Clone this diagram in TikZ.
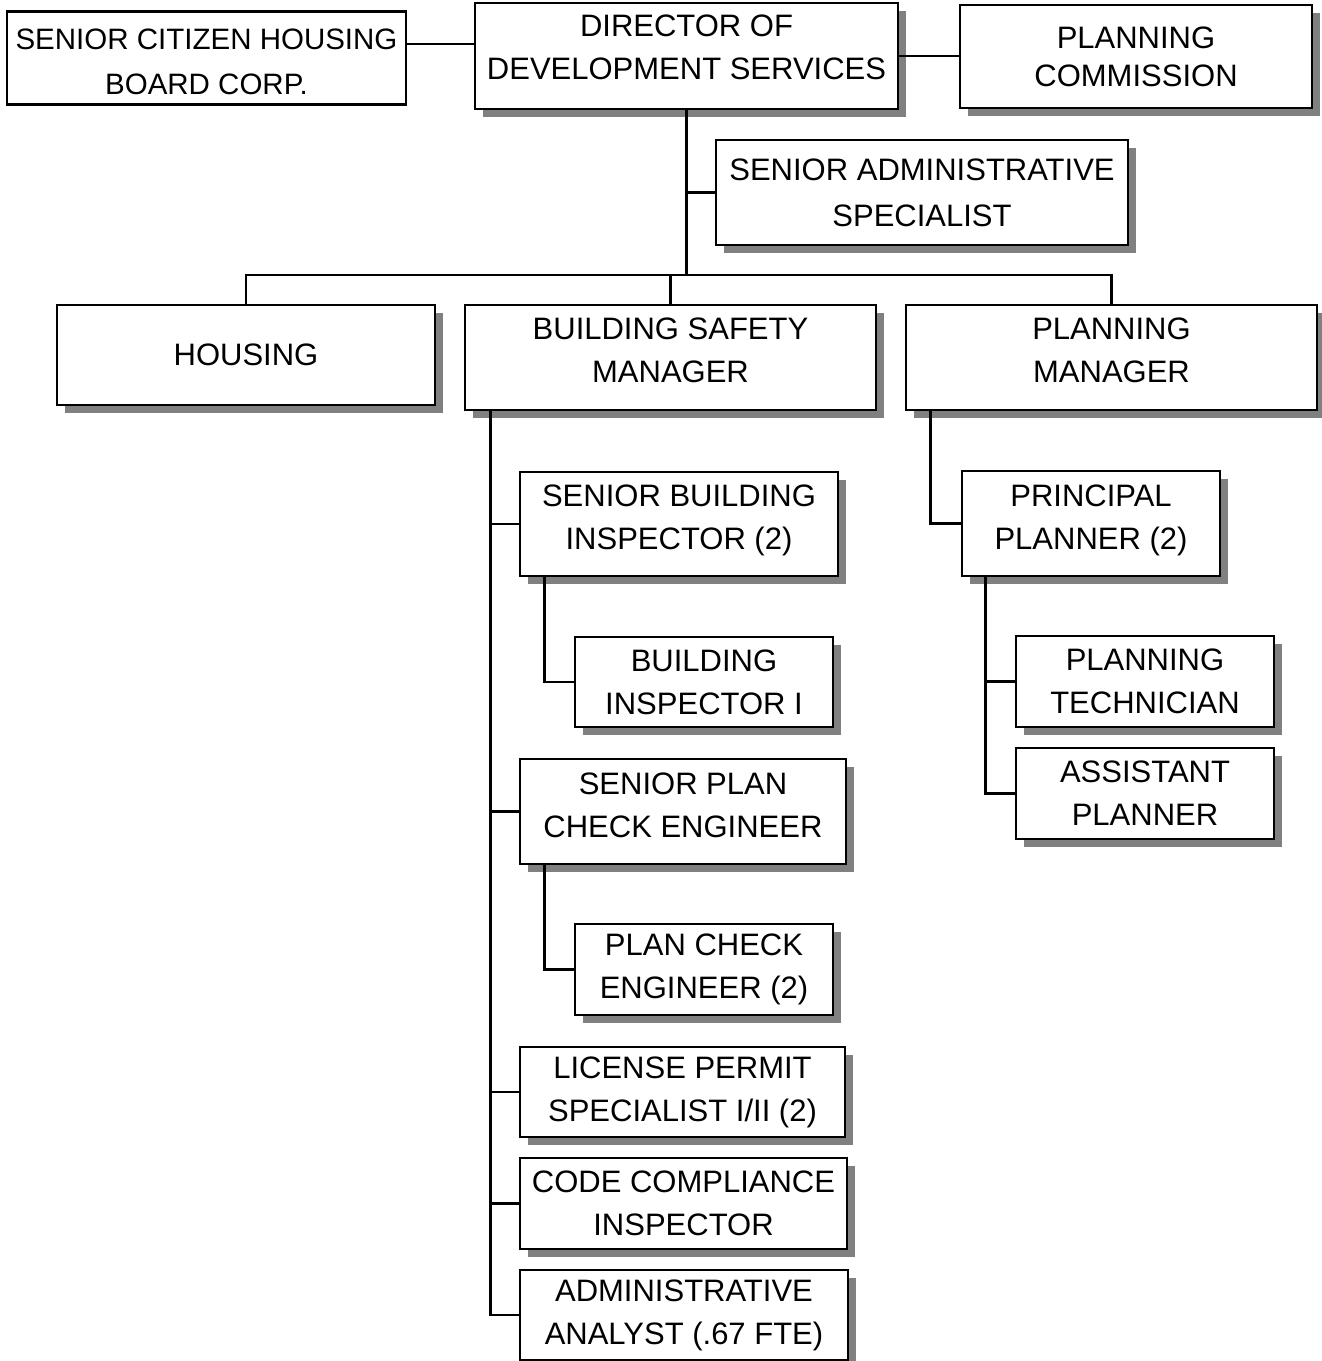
\documentclass[tikz,border=0pt]{standalone}
\usepackage{fontspec}
\setmainfont{Liberation Sans}
\usetikzlibrary{shadows}
% extra depth under the last line, to lift the text block inside a tall box
\newcommand\dropby[1]{\rule[-#1]{0pt}{0pt}}
% extra height above the first line, to lower the text block
\newcommand\raiseby[1]{\rule{0pt}{#1}}

\begin{document}
\begin{tikzpicture}[x=1pt,y=-1pt,
  plainbox/.style={draw, line width=2.8pt, fill=white, inner sep=0pt,
    align=center, font=\fontsize{31pt}{43pt}\selectfont},
  box/.style={plainbox, drop shadow={shadow xshift=7.5pt, shadow yshift=-7.5pt,
    fill=black!50, opacity=1}},
  link/.style={line width=2.8pt}]

\path[use as bounding box, fill=white] (0,0) rectangle (1322,1361);

% top row
\node[plainbox, font=\fontsize{29.5pt}{45pt}\selectfont,
  minimum width=399pt, minimum height=93pt] (sch) at (206.5,58)
  {\raiseby{29pt}SENIOR CITIZEN HOUSING\\BOARD CORP.};
\node[box, minimum width=423pt, minimum height=106pt] (dir) at (686.5,56)
  {DIRECTOR OF\\DEVELOPMENT SERVICES\dropby{17pt}};
\node[box, minimum width=352pt, minimum height=103pt] (pc) at (1136,56.5)
  {PLANNING\\[-5pt]COMMISSION};
\node[box, minimum width=412pt, minimum height=105pt] (sas) at (922,192.5)
  {SENIOR ADMINISTRATIVE\\[3pt]SPECIALIST};

% divisions
\node[box, minimum width=378pt, minimum height=100pt] (hou) at (246,355) {HOUSING};
\node[box, minimum width=411pt, minimum height=105pt] (bsm) at (670.5,357.5)
  {BUILDING SAFETY\\MANAGER\dropby{14pt}};
\node[box, minimum width=411pt, minimum height=105pt] (pm) at (1111.5,357.5)
  {PLANNING\\MANAGER\dropby{14pt}};

% building safety staff
\node[box, minimum width=318pt, minimum height=104pt] (sbi) at (679,524)
  {SENIOR BUILDING\\INSPECTOR (2)\dropby{13pt}};
\node[box, minimum width=258pt, minimum height=90pt] (bi) at (704,682)
  {BUILDING\\INSPECTOR I};
\node[box, minimum width=326pt, minimum height=105pt] (spce) at (683,811.5)
  {SENIOR PLAN\\CHECK ENGINEER\dropby{12pt}};
\node[box, minimum width=258pt, minimum height=91pt] (pce) at (704,969.5)
  {PLAN CHECK\\ENGINEER (2)};
\node[box, minimum width=325pt, minimum height=90pt] (lp) at (682.5,1092)
  {LICENSE PERMIT\\SPECIALIST I/II (2)};
\node[box, minimum width=327pt, minimum height=91pt] (cc) at (683.5,1203.5)
  {CODE COMPLIANCE\\INSPECTOR};
\node[box, minimum width=328pt, minimum height=90pt] (aa) at (684,1315)
  {ADMINISTRATIVE\\ANALYST (.67 FTE)};

% planning staff
\node[box, minimum width=258pt, minimum height=105pt] (pp) at (1091,523.5)
  {PRINCIPAL\\PLANNER (2)\dropby{12pt}};
\node[box, minimum width=258pt, minimum height=91pt] (pt) at (1145,681.5)
  {PLANNING\\TECHNICIAN};
\node[box, minimum width=258pt, minimum height=91pt] (ap) at (1145,793.5)
  {ASSISTANT\\PLANNER};

% reporting lines
\draw[link] (sch.east |- 0,44) -- (dir.west |- 0,44);
\draw[link] (dir.east) -- (dir.east -| pc.west);
\draw[link] (dir.south) -- (dir.south |- 0,275);
\draw[link] (dir.south |- sas.west) -- (sas.west);
\draw[link] (hou.north) -- (hou.north |- 0,275) -| (pm.north);
\draw[link] (bsm.north) -- (bsm.north |- 0,275);

\coordinate (bsmstem) at ([xshift=27pt]bsm.south west);
\draw[link] (bsmstem) |- (aa.west);
\foreach \c in {sbi,spce,lp,cc}
  \draw[link] (bsmstem |- \c.west) -- (\c.west);

\coordinate (sbistem) at ([xshift=26pt]sbi.south west);
\draw[link] (sbistem) |- (bi.west);
\coordinate (spcestem) at ([xshift=26pt]spce.south west);
\draw[link] (spcestem) |- (pce.west);

\coordinate (pmstem) at ([xshift=26pt]pm.south west);
\draw[link] (pmstem) |- (pp.west);
\coordinate (ppstem) at ([xshift=25pt]pp.south west);
\draw[link] (ppstem) |- (ap.west);
\draw[link] (ppstem |- pt.west) -- (pt.west);
\end{tikzpicture}
\end{document}
